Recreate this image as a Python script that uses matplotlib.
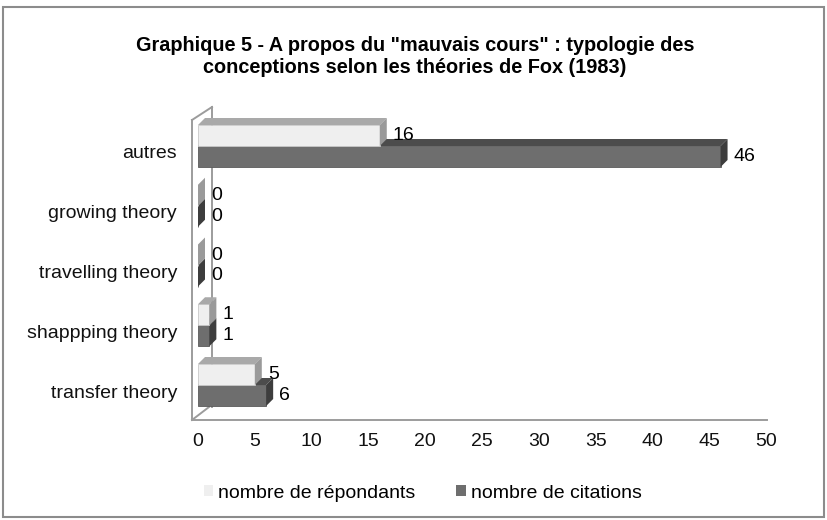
import matplotlib
matplotlib.use('Agg')
import matplotlib.pyplot as plt
from matplotlib.transforms import ScaledTranslation
from matplotlib.patches import Rectangle, Patch

categories = ['transfer theory', 'shappping theory', 'travelling theory',
              'growing theory', 'autres']
repondants = [5, 1, 0, 0, 16]
citations = [6, 1, 0, 0, 46]
series_names = ['nombre de répondants', 'nombre de citations']
xticks = list(range(0, 51, 5))

plt.rcParams.update({'font.family': ['Liberation Sans', 'DejaVu Sans'],
                     'font.size': 14})

W, H = 827, 520
fig = plt.figure(figsize=(W / 100, H / 100), dpi=100)
fig.patch.set_facecolor('white')

# axes placed in pixel terms: x=0 at 198px, x=50 at 766px, floor 420px, top 107px
px_left, px_right, px_floor, px_top = 198, 766, 420, 107
ax = fig.add_axes([px_left / W, 1 - px_floor / H,
                   (px_right - px_left) / W, (px_floor - px_top) / H])
gap = 59.75  # px between categories
y0 = 385     # px of first group center
ax.set_xlim(0, 50)
ax.set_ylim(-(px_floor - y0) / gap, (y0 - px_top) / gap)
ax.axis('off')

ppx = (px_right - px_left) / 50.0  # px per x unit
h = 21 / gap
ddx = 7 / ppx
ddy = 7 / gap

light = dict(front='#efefef', top='#a9a9a9', side='#9a9a9a', edge='#c8c8c8')
dark = dict(front='#6e6e6e', top='#4c4c4c', side='#3d3d3d', edge='#5a5a5a')


def bar3d(v, bottom, c):
    top = bottom + h
    ax.add_patch(Rectangle((0, bottom), v, h, facecolor=c['front'],
                           edgecolor=c['edge'], lw=0.6, zorder=3))
    ax.fill([0, v, v + ddx, ddx], [top, top, top + ddy, top + ddy],
            color=c['top'], lw=0, zorder=3)
    ax.fill([v, v + ddx, v + ddx, v], [bottom, bottom + ddy, top + ddy, top],
            color=c['side'], lw=0, zorder=3)


off = ScaledTranslation(6 / 100, 0, fig.dpi_scale_trans)
for i, (r, c) in enumerate(zip(repondants, citations)):
    bar3d(c, i - h, dark)
    bar3d(r, i, light)
    ax.text(r + ddx, i + h / 2, str(r), ha='left', va='center', fontsize=14,
            transform=ax.transData + off, zorder=5)
    ax.text(c + ddx, i - h / 2, str(c), ha='left', va='center', fontsize=14,
            transform=ax.transData + off, zorder=5)

# 3D frame (wall + floor), pixel coords of the image
def fline(xs, ys, z):
    ax.plot([x / W for x in xs], [1 - y / H for y in ys], color='#9c9c9c',
            lw=1.4, transform=fig.transFigure, clip_on=False, zorder=z)

fline([212, 212], [107, 407], 1)
fline([192, 212], [120, 107], 1)
fline([192, 192], [120, 420], 1)
fline([192, 209], [420, 407], 1)
fline([192, 767], [420, 420], 1)

# tick labels
for i, name in enumerate(categories):
    ax.text(-21 / ppx, i - 8 / gap, name, ha='right', va='center', fontsize=14,
            color='#111111')
for t in xticks:
    ax.text(t, -(px_floor - y0) / gap - 22 / gap, str(t), ha='center',
            va='center', fontsize=14, color='#111111')

fig.text(0.502, 1 - 56 / H,
         'Graphique 5 - A propos du "mauvais cours" : typologie des\n'
         'conceptions selon les théories de Fox (1983)',
         ha='center', va='center', fontsize=14.3, fontweight='bold',
         linespacing=1.2)

handles = [Patch(facecolor=light['front'], edgecolor='none'),
           Patch(facecolor=dark['front'], edgecolor='none')]
fig.legend(handles, series_names, loc='center', bbox_to_anchor=(0.511, 1 - 493 / H),
           ncol=2, frameon=False, fontsize=14, handlelength=0.5,
           handleheight=0.5, handletextpad=0.25, columnspacing=2.1)

# outer border
fig.add_artist(Rectangle((3 / W, 3 / H), 1 - 6 / W, 1 - 10 / H, fill=False,
                         edgecolor='#8c8c8c', lw=1.5, transform=fig.transFigure))

fig.savefig('out.png', dpi=100, facecolor='white')
